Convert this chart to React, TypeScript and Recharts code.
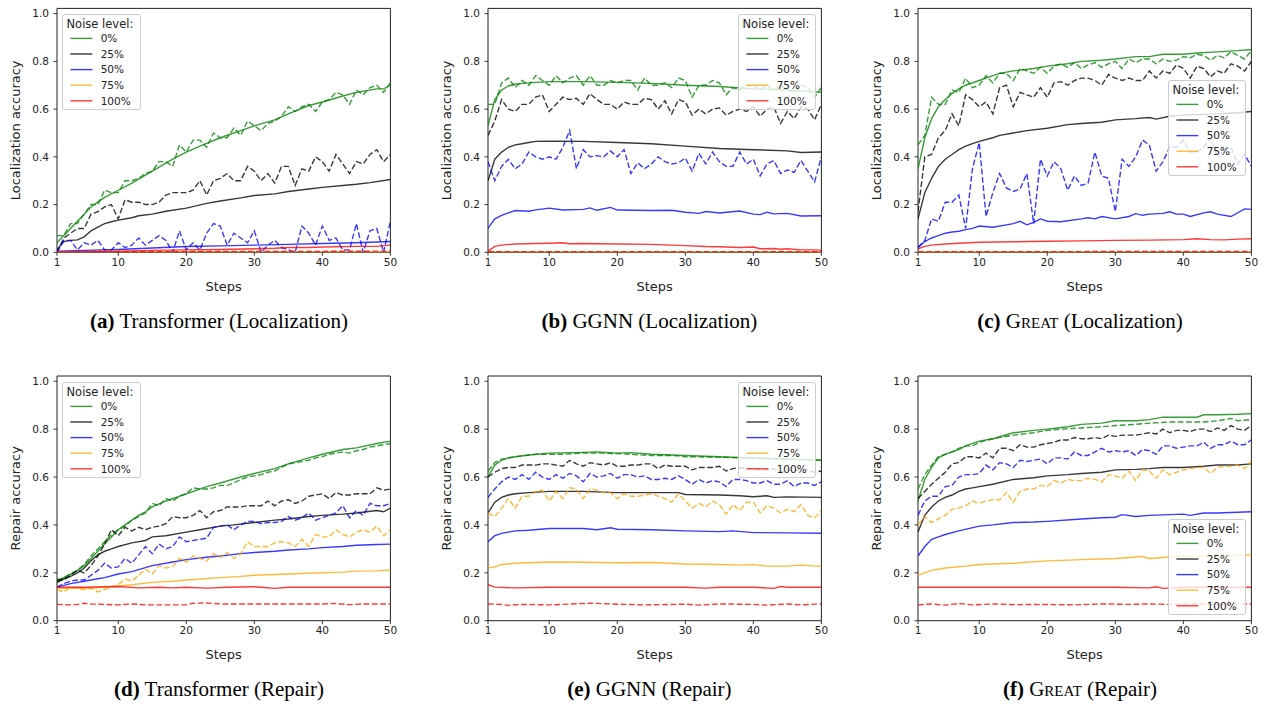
import React from 'react';
import { LineChart, Line, XAxis, YAxis, ReferenceArea, Legend } from 'recharts';

type Pt = [number, number];
type Series = number[] | Pt[];

const noiseLabels = ['0%', '25%', '50%', '75%', '100%'];
const noiseColors = ['#008000', '#000000', '#0000ff', '#ffa500', '#ff0000'];
const xTicks = [1, 10, 20, 30, 40, 50];
const yTicks = [0, 0.2, 0.4, 0.6, 0.8, 1.0];
const legendTitle = 'Noise level:';
const xLabel = 'Steps';

// (a) Transformer (Localization)
const aS0: Pt[] = [[1,0.04],[2,0.07],[3,0.1],[4,0.13],[5,0.16],[6,0.19],[7,0.21],[8,0.23],[10,0.26],[12,0.29],[15,0.34],[18,0.39],[20,0.42],[22,0.445],[25,0.48],[28,0.51],[30,0.53],[33,0.555],[35,0.58],[38,0.615],[40,0.63],[43,0.655],[45,0.67],[48,0.685],[49,0.685],[50,0.70]];
const aD0 = [
  0.07,0.07,0.12,0.12,0.16,0.2,0.2,0.26,0.25,0.25,
  0.3,0.3,0.31,0.33,0.34,0.38,0.38,0.36,0.45,0.42,
  0.47,0.47,0.44,0.5,0.48,0.48,0.52,0.49,0.55,0.53,
  0.51,0.54,0.55,0.57,0.61,0.59,0.61,0.62,0.59,0.63,
  0.64,0.67,0.66,0.62,0.68,0.66,0.69,0.7,0.67,0.71];
const aS25: Pt[] = [[1,0.01],[2,0.045],[3,0.05],[4,0.052],[5,0.065],[6,0.09],[7,0.105],[8,0.12],[9,0.128],[10,0.135],[12,0.145],[13,0.153],[15,0.16],[17,0.172],[20,0.185],[23,0.205],[25,0.215],[28,0.228],[30,0.238],[33,0.245],[35,0.255],[38,0.265],[40,0.272],[43,0.28],[45,0.285],[47,0.292],[50,0.305]];
const aD25 = [
  0.0,0.06,0.08,0.1,0.1,0.16,0.17,0.19,0.2,0.14,
  0.22,0.21,0.21,0.2,0.2,0.21,0.24,0.25,0.25,0.25,
  0.26,0.3,0.24,0.3,0.31,0.33,0.3,0.3,0.36,0.34,
  0.3,0.33,0.29,0.36,0.36,0.28,0.35,0.34,0.4,0.38,
  0.34,0.41,0.37,0.33,0.38,0.37,0.41,0.43,0.38,0.41];
const aS50: Pt[] = [[1,0.005],[5,0.008],[10,0.012],[15,0.018],[20,0.024],[25,0.027],[30,0.03],[35,0.033],[40,0.037],[45,0.04],[50,0.045]];
const aD50 = [
  0.0,0.05,0.05,0.01,0.04,0.03,0.05,0.01,0.01,0.04,
  0.02,0.03,0.06,0.03,0.05,0.07,0.05,0.0,0.09,0.01,
  0.04,0.01,0.08,0.12,0.11,0.03,0.08,0.06,0.04,0.09,
  0.0,0.03,0.05,0.02,0.01,0.0,0.11,0.08,0.03,0.11,
  0.05,0.06,0.01,0.01,0.12,0.0,0.09,0.1,0.0,0.13];
const aS75: Pt[] = [[1,0],[50,0]];
const aD75: Pt[] = [[1,0],[50,0]];
const aS100: Pt[] = [[1,0],[5,0.003],[10,0.005],[15,0.008],[20,0.01],[25,0.012],[30,0.015],[33,0.017],[35,0.02],[38,0.02],[40,0.022],[45,0.025],[48,0.025],[50,0.03]];
const aD100: Pt[] = [[1,0],[10,0.002],[20,0.003],[30,0.004],[40,0.004],[50,0.005]];

// (b) GGNN (Localization)
const bS0: Pt[] = [[1,0.53],[2,0.64],[3,0.68],[4,0.697],[5,0.705],[7,0.71],[10,0.715],[15,0.715],[20,0.712],[25,0.708],[30,0.70],[35,0.695],[40,0.685],[45,0.68],[50,0.67]];
const bD0 = [
  0.62,0.62,0.71,0.73,0.69,0.72,0.70,0.74,0.72,0.70,
  0.74,0.71,0.73,0.74,0.70,0.74,0.70,0.70,0.72,0.71,
  0.72,0.72,0.68,0.73,0.70,0.70,0.71,0.69,0.73,0.72,
  0.65,0.70,0.70,0.72,0.71,0.66,0.69,0.68,0.70,0.70,
  0.68,0.70,0.68,0.70,0.68,0.67,0.70,0.69,0.65,0.69];
const bS25: Pt[] = [[1,0.30],[2,0.39],[3,0.42],[4,0.44],[5,0.45],[6,0.455],[7,0.46],[8,0.465],[10,0.466],[15,0.465],[20,0.46],[25,0.455],[30,0.445],[35,0.435],[40,0.43],[45,0.425],[47,0.418],[50,0.42]];
const bD25 = [
  0.49,0.55,0.64,0.60,0.59,0.62,0.62,0.65,0.66,0.59,
  0.62,0.65,0.64,0.645,0.62,0.665,0.64,0.62,0.62,0.60,
  0.63,0.62,0.62,0.645,0.64,0.60,0.635,0.58,0.64,0.63,
  0.575,0.60,0.58,0.60,0.605,0.575,0.59,0.60,0.59,0.61,
  0.57,0.60,0.61,0.54,0.59,0.56,0.61,0.60,0.555,0.62];
const bS50: Pt[] = [[1,0.10],[2,0.14],[3,0.155],[4,0.165],[5,0.175],[7,0.172],[8,0.178],[10,0.185],[12,0.177],[15,0.18],[16,0.186],[17,0.176],[19,0.188],[20,0.177],[25,0.175],[28,0.176],[30,0.168],[32,0.163],[33,0.171],[35,0.165],[38,0.173],[40,0.16],[41,0.158],[42,0.168],[43,0.161],[45,0.163],[47,0.152],[50,0.153]];
const bD50 = [
  0.38,0.30,0.36,0.39,0.35,0.37,0.42,0.40,0.39,0.40,
  0.39,0.44,0.51,0.35,0.43,0.40,0.405,0.40,0.425,0.40,
  0.43,0.33,0.375,0.35,0.37,0.40,0.38,0.37,0.375,0.395,
  0.34,0.415,0.37,0.42,0.38,0.36,0.36,0.42,0.37,0.39,
  0.32,0.37,0.385,0.33,0.345,0.335,0.385,0.34,0.295,0.40];
const bS75: Pt[] = [[1,0],[50,0]];
const bD75: Pt[] = [[1,0],[50,0]];
const bS100: Pt[] = [[1,0.005],[2,0.025],[3,0.03],[5,0.035],[8,0.037],[10,0.038],[12,0.04],[13,0.036],[15,0.037],[20,0.035],[25,0.033],[28,0.03],[30,0.028],[33,0.024],[35,0.023],[38,0.02],[40,0.022],[41,0.015],[43,0.016],[44,0.013],[45,0.015],[47,0.01],[49,0.01],[50,0.008]];
const bD100: Pt[] = [[1,0.002],[20,0.002],[50,0.002]];

// (c) GREAT (Localization)
const cS0: Pt[] = [[1,0.35],[2,0.48],[3,0.56],[4,0.61],[5,0.64],[6,0.665],[7,0.685],[8,0.70],[10,0.72],[12,0.74],[13,0.75],[15,0.76],[18,0.77],[20,0.78],[23,0.79],[25,0.80],[28,0.805],[30,0.81],[33,0.82],[35,0.82],[37,0.83],[40,0.83],[42,0.835],[45,0.84],[48,0.845],[50,0.85]];
const cD0 = [
  0.45,0.49,0.65,0.62,0.62,0.68,0.67,0.73,0.69,0.70,
  0.74,0.71,0.75,0.75,0.72,0.77,0.76,0.75,0.775,0.75,
  0.78,0.79,0.775,0.795,0.77,0.785,0.795,0.775,0.79,0.80,
  0.77,0.81,0.795,0.81,0.81,0.79,0.81,0.80,0.805,0.82,
  0.815,0.83,0.825,0.805,0.825,0.815,0.84,0.825,0.81,0.845];
const cS25: Pt[] = [[1,0.14],[2,0.25],[3,0.31],[4,0.36],[5,0.39],[6,0.41],[7,0.43],[8,0.445],[9,0.455],[10,0.465],[12,0.48],[13,0.49],[15,0.50],[17,0.51],[20,0.52],[23,0.535],[25,0.54],[28,0.545],[30,0.555],[33,0.56],[35,0.565],[36,0.558],[38,0.57],[40,0.575],[45,0.58],[48,0.585],[50,0.59]];
const cD25 = [
  0.17,0.40,0.41,0.48,0.51,0.58,0.53,0.66,0.64,0.61,
  0.63,0.58,0.69,0.70,0.61,0.67,0.66,0.65,0.69,0.65,
  0.71,0.715,0.70,0.72,0.73,0.73,0.72,0.70,0.745,0.73,
  0.72,0.73,0.72,0.72,0.76,0.73,0.76,0.75,0.785,0.77,
  0.73,0.78,0.77,0.735,0.76,0.75,0.79,0.78,0.76,0.80];
const cS50: Pt[] = [[1,0.02],[2,0.045],[3,0.06],[4,0.07],[5,0.08],[6,0.085],[7,0.088],[8,0.095],[9,0.10],[10,0.11],[12,0.105],[14,0.115],[15,0.12],[16,0.13],[17,0.115],[18,0.125],[19,0.14],[20,0.13],[22,0.128],[25,0.14],[26,0.145],[27,0.14],[28,0.15],[30,0.14],[32,0.15],[33,0.162],[34,0.155],[35,0.16],[37,0.163],[38,0.17],[39,0.16],[40,0.16],[41,0.15],[43,0.165],[44,0.17],[45,0.16],[47,0.15],[49,0.182],[50,0.18]];
const cD50 = [
  0.02,0.05,0.14,0.13,0.21,0.21,0.24,0.10,0.35,0.46,
  0.15,0.25,0.33,0.27,0.255,0.265,0.33,0.12,0.39,0.32,
  0.38,0.35,0.26,0.32,0.28,0.29,0.42,0.32,0.31,0.17,
  0.39,0.36,0.40,0.47,0.45,0.34,0.38,0.44,0.44,0.47,
  0.42,0.42,0.44,0.48,0.40,0.43,0.44,0.37,0.41,0.36];
const cS75: Pt[] = [[1,0],[50,0]];
const cD75: Pt[] = [[1,0],[50,0]];
const cS100: Pt[] = [[1,0.015],[2,0.025],[3,0.03],[5,0.035],[7,0.038],[10,0.042],[15,0.044],[20,0.046],[25,0.048],[30,0.05],[35,0.051],[40,0.053],[42,0.057],[44,0.053],[46,0.052],[48,0.055],[50,0.057]];
const cD100: Pt[] = [[1,0.003],[25,0.003],[50,0.004]];

// (d) Transformer (Repair)
const dS0: Pt[] = [[1,0.16],[2,0.18],[3,0.195],[4,0.21],[5,0.23],[6,0.26],[7,0.29],[8,0.32],[9,0.35],[10,0.38],[11,0.40],[12,0.42],[13,0.44],[14,0.455],[15,0.475],[17,0.50],[20,0.53],[23,0.56],[25,0.575],[28,0.6],[30,0.615],[33,0.635],[35,0.655],[38,0.68],[40,0.695],[43,0.715],[45,0.722],[48,0.74],[50,0.75]];
const dD0 = [
  0.17,0.18,0.195,0.21,0.235,0.27,0.30,0.33,0.36,0.38,
  0.395,0.42,0.435,0.45,0.49,0.48,0.51,0.50,0.52,0.53,
  0.555,0.55,0.55,0.555,0.565,0.565,0.575,0.59,0.60,0.605,
  0.61,0.62,0.625,0.64,0.655,0.66,0.665,0.67,0.68,0.685,
  0.695,0.70,0.705,0.70,0.71,0.715,0.725,0.73,0.735,0.74];
const dS25: Pt[] = [[1,0.16],[2,0.175],[3,0.185],[4,0.20],[5,0.22],[6,0.25],[7,0.275],[8,0.29],[9,0.30],[10,0.31],[12,0.325],[14,0.335],[15,0.35],[17,0.355],[20,0.37],[22,0.38],[25,0.395],[27,0.40],[30,0.41],[33,0.42],[35,0.425],[38,0.435],[40,0.44],[43,0.445],[45,0.45],[48,0.46],[49,0.455],[50,0.47]];
const dD25 = [
  0.17,0.17,0.19,0.21,0.20,0.23,0.27,0.32,0.38,0.355,
  0.39,0.375,0.39,0.38,0.39,0.395,0.405,0.435,0.43,0.43,
  0.44,0.46,0.43,0.455,0.46,0.475,0.475,0.475,0.48,0.48,
  0.48,0.50,0.48,0.50,0.505,0.49,0.50,0.52,0.525,0.53,
  0.51,0.535,0.525,0.525,0.53,0.53,0.53,0.555,0.545,0.55];
const dS50: Pt[] = [[1,0.14],[3,0.155],[5,0.165],[7,0.175],[8,0.18],[10,0.195],[12,0.205],[15,0.23],[18,0.245],[20,0.255],[23,0.265],[25,0.27],[28,0.28],[30,0.285],[33,0.29],[35,0.295],[38,0.30],[40,0.305],[43,0.31],[45,0.315],[48,0.318],[50,0.32]];
const dD50 = [
  0.14,0.155,0.165,0.17,0.17,0.19,0.21,0.24,0.22,0.225,
  0.26,0.24,0.275,0.31,0.28,0.32,0.30,0.31,0.35,0.33,
  0.335,0.34,0.345,0.39,0.395,0.40,0.38,0.40,0.415,0.415,
  0.405,0.41,0.41,0.415,0.435,0.42,0.43,0.45,0.42,0.43,
  0.44,0.45,0.48,0.43,0.46,0.44,0.49,0.48,0.48,0.49];
const dS75: Pt[] = [[1,0.135],[5,0.135],[8,0.14],[10,0.145],[12,0.15],[15,0.16],[18,0.165],[20,0.17],[25,0.18],[28,0.185],[30,0.19],[35,0.195],[40,0.20],[43,0.203],[45,0.207],[48,0.208],[50,0.212]];
const dD75 = [
  0.13,0.12,0.14,0.135,0.13,0.135,0.12,0.13,0.14,0.15,
  0.175,0.165,0.19,0.215,0.195,0.23,0.22,0.225,0.26,0.245,
  0.27,0.26,0.25,0.28,0.265,0.285,0.26,0.28,0.33,0.31,
  0.31,0.31,0.325,0.33,0.325,0.31,0.34,0.31,0.36,0.35,
  0.35,0.38,0.36,0.35,0.37,0.38,0.37,0.395,0.355,0.38];
const dS100: Pt[] = [[1,0.14],[5,0.14],[10,0.143],[13,0.137],[16,0.14],[18,0.137],[20,0.14],[23,0.136],[26,0.14],[30,0.142],[31,0.14],[33,0.135],[35,0.14],[50,0.14]];
const dD100: Pt[] = [[1,0.068],[3,0.066],[4,0.068],[5,0.073],[6,0.07],[10,0.066],[12,0.07],[14,0.066],[18,0.066],[20,0.066],[21,0.073],[23,0.074],[25,0.07],[30,0.07],[35,0.07],[40,0.07],[42,0.072],[44,0.067],[46,0.07],[50,0.07]];

// (e) GGNN (Repair)
const eS0: Pt[] = [[1,0.60],[2,0.65],[3,0.67],[4,0.68],[5,0.685],[7,0.692],[10,0.70],[15,0.703],[17,0.705],[20,0.70],[22,0.702],[25,0.695],[30,0.69],[35,0.685],[40,0.68],[45,0.675],[50,0.67]];
const eD0: Pt[] = [[1,0.625],[2,0.66],[3,0.675],[5,0.685],[8,0.695],[10,0.695],[12,0.695],[15,0.70],[18,0.70],[20,0.698],[22,0.695],[25,0.69],[28,0.69],[30,0.685],[35,0.683],[40,0.678],[45,0.675],[50,0.67]];
const eS25: Pt[] = [[1,0.45],[2,0.495],[3,0.515],[4,0.525],[5,0.53],[7,0.535],[10,0.54],[15,0.54],[20,0.535],[25,0.535],[29,0.535],[30,0.527],[35,0.525],[38,0.522],[40,0.518],[42,0.522],[43,0.515],[45,0.517],[50,0.515]];
const eD25 = [
  0.60,0.62,0.635,0.64,0.64,0.65,0.65,0.65,0.655,0.655,
  0.65,0.645,0.67,0.655,0.645,0.66,0.655,0.65,0.66,0.645,
  0.645,0.65,0.65,0.655,0.655,0.635,0.65,0.645,0.645,0.645,
  0.63,0.64,0.64,0.64,0.645,0.625,0.635,0.64,0.635,0.635,
  0.63,0.63,0.635,0.62,0.63,0.625,0.635,0.63,0.62,0.625];
const eS50: Pt[] = [[1,0.33],[2,0.355],[3,0.365],[4,0.37],[5,0.375],[7,0.378],[10,0.385],[15,0.385],[17,0.38],[19,0.388],[20,0.382],[25,0.38],[30,0.375],[35,0.372],[37,0.375],[40,0.368],[45,0.367],[50,0.365]];
const eD50 = [
  0.515,0.55,0.58,0.60,0.59,0.61,0.59,0.62,0.60,0.59,
  0.61,0.595,0.615,0.605,0.58,0.615,0.60,0.605,0.615,0.595,
  0.61,0.61,0.60,0.605,0.59,0.59,0.595,0.59,0.605,0.59,
  0.57,0.59,0.575,0.585,0.58,0.56,0.59,0.59,0.585,0.575,
  0.575,0.585,0.57,0.57,0.585,0.56,0.575,0.575,0.565,0.58];
const eS75: Pt[] = [[1,0.22],[2,0.225],[3,0.235],[5,0.24],[10,0.245],[15,0.244],[20,0.242],[25,0.243],[30,0.237],[35,0.235],[38,0.232],[40,0.234],[42,0.228],[45,0.228],[47,0.232],[50,0.227]];
const eD75 = [
  0.45,0.435,0.47,0.51,0.47,0.52,0.52,0.54,0.545,0.50,
  0.54,0.51,0.555,0.55,0.51,0.55,0.545,0.535,0.535,0.51,
  0.53,0.52,0.52,0.525,0.53,0.52,0.51,0.495,0.53,0.50,
  0.47,0.49,0.475,0.50,0.485,0.445,0.485,0.46,0.495,0.495,
  0.45,0.48,0.47,0.45,0.465,0.455,0.485,0.44,0.43,0.46];
const eS100: Pt[] = [[1,0.15],[2,0.14],[5,0.137],[10,0.14],[20,0.14],[30,0.14],[33,0.136],[35,0.14],[40,0.14],[43,0.135],[44,0.143],[45,0.14],[50,0.14]];
const eD100: Pt[] = [[1,0.07],[3,0.068],[4,0.064],[6,0.068],[10,0.066],[16,0.073],[20,0.069],[24,0.066],[30,0.069],[32,0.065],[35,0.07],[40,0.068],[42,0.065],[45,0.07],[47,0.066],[50,0.07]];

// (f) GREAT (Repair)
const fS0: Pt[] = [[1,0.50],[2,0.59],[3,0.64],[4,0.68],[5,0.695],[6,0.705],[7,0.715],[8,0.73],[10,0.75],[12,0.76],[15,0.785],[18,0.795],[20,0.80],[23,0.81],[25,0.82],[28,0.825],[30,0.835],[33,0.835],[35,0.84],[37,0.85],[40,0.85],[42,0.85],[43,0.86],[45,0.86],[48,0.862],[50,0.865]];
const fD0: Pt[] = [[1,0.55],[2,0.61],[3,0.65],[4,0.685],[5,0.695],[6,0.705],[7,0.72],[8,0.73],[9,0.73],[10,0.745],[12,0.76],[15,0.775],[18,0.785],[20,0.795],[22,0.80],[25,0.805],[28,0.81],[30,0.815],[33,0.82],[35,0.825],[38,0.83],[40,0.83],[43,0.83],[45,0.835],[47,0.845],[48,0.835],[50,0.84]];
const fS25: Pt[] = [[1,0.37],[2,0.44],[3,0.475],[4,0.50],[5,0.515],[6,0.525],[7,0.54],[8,0.55],[9,0.555],[10,0.56],[12,0.57],[15,0.59],[18,0.597],[20,0.605],[23,0.61],[25,0.615],[28,0.62],[30,0.63],[33,0.632],[35,0.635],[37,0.64],[40,0.64],[43,0.645],[45,0.65],[48,0.65],[50,0.655]];
const fD25 = [
  0.51,0.54,0.57,0.595,0.62,0.655,0.66,0.685,0.685,0.68,
  0.70,0.68,0.72,0.72,0.71,0.735,0.725,0.725,0.735,0.74,
  0.745,0.755,0.755,0.765,0.76,0.76,0.765,0.76,0.775,0.77,
  0.775,0.775,0.775,0.78,0.785,0.78,0.80,0.785,0.795,0.795,
  0.79,0.80,0.80,0.79,0.805,0.795,0.815,0.80,0.795,0.815];
const fS50: Pt[] = [[1,0.27],[2,0.31],[3,0.34],[4,0.35],[5,0.36],[7,0.375],[10,0.395],[12,0.40],[15,0.41],[18,0.412],[20,0.415],[25,0.425],[28,0.43],[30,0.432],[31,0.443],[33,0.435],[35,0.44],[40,0.445],[41,0.44],[43,0.45],[45,0.45],[50,0.455]];
const fD50 = [
  0.44,0.50,0.52,0.52,0.56,0.565,0.60,0.61,0.61,0.615,
  0.65,0.63,0.66,0.655,0.64,0.67,0.665,0.67,0.675,0.655,
  0.68,0.68,0.675,0.705,0.69,0.69,0.705,0.72,0.705,0.71,
  0.705,0.71,0.69,0.715,0.71,0.695,0.73,0.73,0.72,0.725,
  0.73,0.73,0.745,0.72,0.735,0.735,0.75,0.735,0.735,0.755];
const fS75: Pt[] = [[1,0.19],[2,0.20],[3,0.21],[5,0.22],[8,0.228],[10,0.235],[15,0.24],[20,0.25],[25,0.255],[30,0.26],[34,0.268],[35,0.26],[40,0.27],[45,0.27],[50,0.275]];
const fD75 = [
  0.40,0.435,0.41,0.425,0.44,0.465,0.47,0.48,0.50,0.49,
  0.50,0.505,0.505,0.535,0.495,0.54,0.55,0.55,0.565,0.56,
  0.585,0.575,0.59,0.585,0.585,0.595,0.59,0.58,0.61,0.605,
  0.595,0.625,0.585,0.63,0.625,0.595,0.63,0.61,0.62,0.63,
  0.635,0.64,0.64,0.615,0.64,0.645,0.645,0.65,0.635,0.665];
const fS100: Pt[] = [[1,0.14],[10,0.14],[20,0.14],[30,0.14],[35,0.137],[36,0.142],[37,0.135],[40,0.14],[50,0.14]];
const fD100: Pt[] = [[1,0.066],[3,0.07],[5,0.065],[7,0.072],[9,0.066],[12,0.07],[15,0.067],[20,0.068],[24,0.066],[28,0.07],[32,0.068],[35,0.07],[38,0.068],[42,0.07],[45,0.068],[50,0.07]];

const toPoints = (s: Series) =>
  (s as any[]).map((v: any, i: number) =>
    Array.isArray(v) ? { x: v[0], y: v[1] } : { x: i + 1, y: v }
  );

type LegendPos = 'ul' | 'ur' | 'cr' | 'lr';
interface PanelDef {
  key: string;
  col: number;
  row: number;
  yLabel: string;
  letter: string;
  model: string;
  smallCaps: boolean;
  task: string;
  legend: LegendPos;
  solid: Series[];
  dashed: Series[];
}

const panels: PanelDef[] = [
  { key: 'a', col: 0, row: 0, yLabel: 'Localization accuracy', letter: '(a)', model: 'Transformer', smallCaps: false, task: '(Localization)', legend: 'ul', solid: [aS0, aS25, aS50, aS75, aS100], dashed: [aD0, aD25, aD50, aD75, aD100] },
  { key: 'b', col: 1, row: 0, yLabel: 'Localization accuracy', letter: '(b)', model: 'GGNN', smallCaps: false, task: '(Localization)', legend: 'ur', solid: [bS0, bS25, bS50, bS75, bS100], dashed: [bD0, bD25, bD50, bD75, bD100] },
  { key: 'c', col: 2, row: 0, yLabel: 'Localization accuracy', letter: '(c)', model: 'Great', smallCaps: true, task: '(Localization)', legend: 'cr', solid: [cS0, cS25, cS50, cS75, cS100], dashed: [cD0, cD25, cD50, cD75, cD100] },
  { key: 'd', col: 0, row: 1, yLabel: 'Repair accuracy', letter: '(d)', model: 'Transformer', smallCaps: false, task: '(Repair)', legend: 'ul', solid: [dS0, dS25, dS50, dS75, dS100], dashed: [dD0, dD25, dD50, dD75, dD100] },
  { key: 'e', col: 1, row: 1, yLabel: 'Repair accuracy', letter: '(e)', model: 'GGNN', smallCaps: false, task: '(Repair)', legend: 'ur', solid: [eS0, eS25, eS50, eS75, eS100], dashed: [eD0, eD25, eD50, eD75, eD100] },
  { key: 'f', col: 2, row: 1, yLabel: 'Repair accuracy', letter: '(f)', model: 'Great', smallCaps: true, task: '(Repair)', legend: 'lr', solid: [fS0, fS25, fS50, fS75, fS100], dashed: [fD0, fD25, fD50, fD75, fD100] },
];

const PLOT_LEFT = [57.3, 487.7, 918.3];
const PLOT_W = 333.4;
const ROW_TOP = [0, 370];
const PLOT_TOP = [8.4, 6];
const PLOT_BOTTOM = [252.3, 250.7];
const CHART_W = 410;
const CHART_H = 300;
const Y_MAX = 1.022;
const LEG_W = 78.5;
const LEG_H = 96;
const SANS = '"DejaVu Sans", sans-serif';
const LINE_OP = 0.78;

function NoiseLegend() {
  return (
    <div
      style={{
        width: LEG_W,
        height: LEG_H,
        boxSizing: 'border-box',
        background: 'rgba(255,255,255,0.8)',
        border: '1px solid #cccccc',
        borderRadius: 3,
        position: 'relative',
        fontFamily: SANS,
      }}
    >
      <svg width={LEG_W} height={LEG_H} style={{ position: 'absolute', left: -1, top: -1, overflow: 'visible' }}>
        <text x={4.5} y={13.6} fontSize={11.5} fill="#222" fontFamily={SANS}>{legendTitle}</text>
        {noiseLabels.map((l, i) => {
          const cy = 24.4 + i * 15.6;
          return (
            <g key={l}>
              <line x1={8.4} x2={30.4} y1={cy} y2={cy} stroke={noiseColors[i]} strokeOpacity={LINE_OP} strokeWidth={1.4} />
              <text x={38.7} y={cy + 3.8} fontSize={10.5} fill="#222" fontFamily={SANS}>{l}</text>
            </g>
          );
        })}
      </svg>
    </div>
  );
}

function Panel({ p }: { p: PanelDef }) {
  const plotTop = PLOT_TOP[p.row];
  const plotBottom = PLOT_BOTTOM[p.row];
  const margin = { top: plotTop, left: 15, right: CHART_W - 60 - PLOT_W, bottom: CHART_H - plotBottom - 30 };
  let legLeft = 65;
  let legTop = plotTop + 5.5;
  if (p.legend === 'ur') legLeft = 60 + PLOT_W - 5 - LEG_W;
  if (p.legend === 'cr') { legLeft = 60 + PLOT_W - 5.5 - LEG_W; legTop = plotTop + 71.6; }
  if (p.legend === 'lr') { legLeft = 60 + PLOT_W - 5.5 - LEG_W; legTop = plotBottom - 5.7 - LEG_H; }

  const lines: React.ReactNode[] = [];
  noiseLabels.forEach((lab, i) => {
    lines.push(
      <Line
        key={`s${i}`}
        data={toPoints(p.solid[i])}
        dataKey="y"
        name={lab}
        type="linear"
        stroke={noiseColors[i]}
        strokeOpacity={LINE_OP}
        strokeWidth={1.4}
        dot={false}
        activeDot={false}
        isAnimationActive={false}
      />
    );
    lines.push(
      <Line
        key={`d${i}`}
        data={toPoints(p.dashed[i])}
        dataKey="y"
        name={`${lab} dashed`}
        type="linear"
        stroke={noiseColors[i]}
        strokeOpacity={LINE_OP}
        strokeWidth={1.4}
        strokeDasharray="5.8 2.5"
        dot={false}
        activeDot={false}
        legendType="none"
        isAnimationActive={false}
      />
    );
  });

  return (
    <div style={{ position: 'absolute', left: PLOT_LEFT[p.col] - 60, top: ROW_TOP[p.row], width: CHART_W, height: CHART_H }}>
      <LineChart width={CHART_W} height={CHART_H} margin={margin}>
        <XAxis
          type="number"
          dataKey="x"
          domain={[1, 50]}
          ticks={xTicks}
          allowDataOverflow
          height={30}
          tickSize={3.5}
          tickMargin={2.5}
          axisLine={false}
          tickLine={{ stroke: '#222', strokeWidth: 0.9 }}
          tick={{ fontSize: 10.5, fill: '#222', fontFamily: SANS }}
          label={{ value: xLabel, position: 'bottom', offset: -1, style: { fontSize: 13, fill: '#222', fontFamily: SANS } }}
        />
        <YAxis
          type="number"
          domain={[0, Y_MAX]}
          ticks={yTicks}
          allowDataOverflow
          width={45}
          tickSize={3.5}
          tickMargin={4.5}
          axisLine={false}
          tickLine={{ stroke: '#222', strokeWidth: 0.9 }}
          tickFormatter={(v: number) => v.toFixed(1)}
          tick={{ fontSize: 10.5, fill: '#222', fontFamily: SANS }}
          label={{ value: p.yLabel, angle: -90, position: 'insideLeft', offset: 3.5, style: { textAnchor: 'middle', fontSize: 13, fill: '#222', fontFamily: SANS } }}
        />
        {lines}
        <ReferenceArea x1={1} x2={50} y1={0} y2={Y_MAX} fill="none" fillOpacity={0} stroke="#222" strokeWidth={1} ifOverflow="visible" />
        <Legend
          layout="vertical"
          align="center"
          verticalAlign="middle"
          content={() => <NoiseLegend />}
          wrapperStyle={{ position: 'absolute', left: legLeft, top: legTop, width: LEG_W, height: LEG_H, margin: 0, padding: 0 }}
        />
      </LineChart>
    </div>
  );
}

const CAPTION_TOP = [310.7, 679.1];

function Caption({ p }: { p: PanelDef }) {
  const cx = PLOT_LEFT[p.col] + PLOT_W / 2 - 5;
  return (
    <div
      style={{
        position: 'absolute',
        left: cx - 210,
        top: CAPTION_TOP[p.row],
        width: 420,
        textAlign: 'center',
        fontFamily: '"Liberation Serif", serif',
        fontSize: 21,
        lineHeight: '21px',
        color: '#000',
        whiteSpace: 'nowrap',
      }}
    >
      <span style={{ fontWeight: 700 }}>{p.letter}</span>{' '}
      <span style={p.smallCaps ? { fontVariant: 'small-caps' } : undefined}>{p.model}</span>{' '}
      {p.task}
    </div>
  );
}

export default function App() {
  return (
    <div style={{ position: 'absolute', left: 0, top: 0, width: 1265, height: 705, background: '#fff', overflow: 'hidden' }}>
      {panels.map((p) => (
        <Panel key={p.key} p={p} />
      ))}
      {panels.map((p) => (
        <Caption key={`c${p.key}`} p={p} />
      ))}
    </div>
  );
}
